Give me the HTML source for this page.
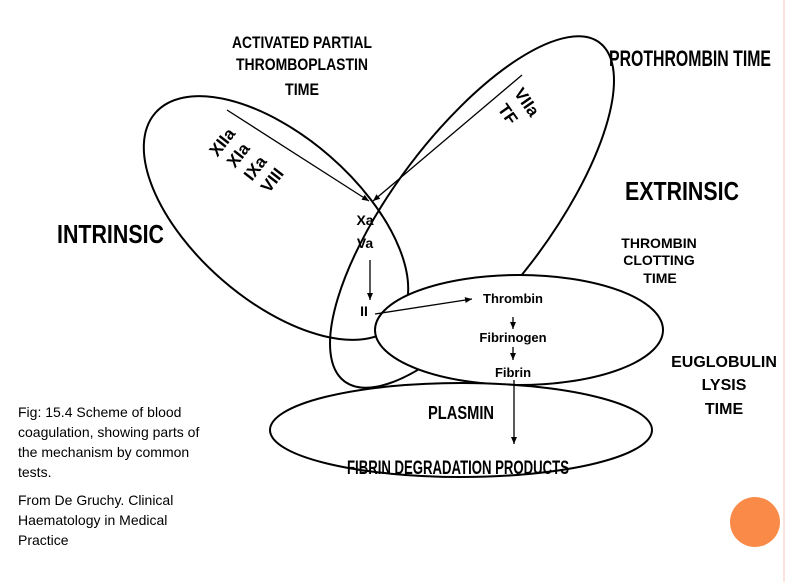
<!DOCTYPE html>
<html><head><style>
html,body{margin:0;padding:0;background:#fff;}
svg{display:block;}
.h{font-family:"Liberation Sans Narrow","Liberation Sans",sans-serif;font-weight:bold;fill:#000;}
.w{font-family:"Liberation Sans",sans-serif;font-weight:bold;fill:#000;}
.c{font-family:"Liberation Sans",sans-serif;font-size:14px;fill:#000;}
</style></head><body>
<svg width="786" height="582" viewBox="0 0 786 582" xmlns="http://www.w3.org/2000/svg">
<defs><marker id="a" markerWidth="8" markerHeight="8" refX="7" refY="4" orient="auto" markerUnits="userSpaceOnUse"><path d="M0,1 L7,4 L0,7 Z" fill="#000"/></marker></defs>
<line x1="784" y1="0" x2="784" y2="582" stroke="#f6c9b8" stroke-width="1"/>
<circle cx="755" cy="522" r="25" fill="#fa8a48"/>
<g fill="none" stroke="#000" stroke-width="2">
<ellipse cx="276" cy="218" rx="160" ry="82" transform="rotate(41 276 218)"/>
<ellipse cx="472" cy="212" rx="212" ry="78" transform="rotate(-53 472 212)"/>
<ellipse cx="519" cy="330" rx="144" ry="55" fill="#fff"/>
<ellipse cx="461" cy="430" rx="191" ry="47" fill="#fff"/>
</g>
<g stroke="#000" stroke-width="1.3" fill="none">
<line x1="227" y1="110" x2="369" y2="201" marker-end="url(#a)"/>
<line x1="522" y1="75" x2="373" y2="201" marker-end="url(#a)"/>
<line x1="370" y1="260" x2="370" y2="300" marker-end="url(#a)"/>
<line x1="375" y1="314" x2="472" y2="299" marker-end="url(#a)"/>
<line x1="513" y1="317" x2="513" y2="329" marker-end="url(#a)"/>
<line x1="513" y1="347" x2="513" y2="360" marker-end="url(#a)"/>
<line x1="514" y1="380" x2="514" y2="444" marker-end="url(#a)"/>
</g>
<text class="h" font-size="17" x="302" y="48" text-anchor="middle" textLength="140" lengthAdjust="spacingAndGlyphs">ACTIVATED PARTIAL</text>
<text class="h" font-size="17" x="302" y="70" text-anchor="middle" textLength="132" lengthAdjust="spacingAndGlyphs">THROMBOPLASTIN</text>
<text class="h" font-size="17" x="302" y="95" text-anchor="middle" textLength="34" lengthAdjust="spacingAndGlyphs">TIME</text>
<text class="h" font-size="22" x="690" y="66" text-anchor="middle" textLength="162" lengthAdjust="spacingAndGlyphs">PROTHROMBIN TIME</text>
<text class="h" font-size="26" x="682" y="200" text-anchor="middle" textLength="114" lengthAdjust="spacingAndGlyphs">EXTRINSIC</text>
<text class="h" font-size="26" x="57" y="243" textLength="107" lengthAdjust="spacingAndGlyphs">INTRINSIC</text>
<text class="w" font-size="14" x="659" y="248" text-anchor="middle">THROMBIN</text>
<text class="w" font-size="14" x="659" y="265" text-anchor="middle">CLOTTING</text>
<text class="w" font-size="14" x="660" y="283" text-anchor="middle">TIME</text>
<text class="w" font-size="16" x="724" y="367" text-anchor="middle">EUGLOBULIN</text>
<text class="w" font-size="16" x="724" y="390" text-anchor="middle">LYSIS</text>
<text class="w" font-size="16" x="724" y="414" text-anchor="middle">TIME</text>
<text class="w" font-size="14" x="365" y="225" text-anchor="middle">Xa</text>
<text class="w" font-size="14" x="365" y="248" text-anchor="middle">Va</text>
<text class="w" font-size="14" x="364" y="316" text-anchor="middle">II</text>
<text class="w" font-size="13" x="513" y="303" text-anchor="middle">Thrombin</text>
<text class="w" font-size="13" x="513" y="342" text-anchor="middle">Fibrinogen</text>
<text class="w" font-size="13" x="513" y="377" text-anchor="middle">Fibrin</text>
<text class="h" font-size="18" x="461" y="419" text-anchor="middle" textLength="66" lengthAdjust="spacingAndGlyphs">PLASMIN</text>
<text class="h" font-size="19" x="458" y="474" text-anchor="middle" textLength="222" lengthAdjust="spacingAndGlyphs">FIBRIN DEGRADATION PRODUCTS</text>
<g class="h" font-size="17" text-anchor="middle">
<text transform="translate(222,142) rotate(-52)" dy="6">XIIa</text>
<text transform="translate(238,155) rotate(-52)" dy="6">XIa</text>
<text transform="translate(255,168) rotate(-52)" dy="6">IXa</text>
<text transform="translate(272,180) rotate(-52)" dy="6">VIII</text>
<text transform="translate(527,102) rotate(55)" dy="6">VIIa</text>
<text transform="translate(508,114) rotate(55)" dy="6">TF</text>
</g>
<text class="c" x="18" y="417">Fig: 15.4 Scheme of blood</text>
<text class="c" x="18" y="437">coagulation, showing parts of</text>
<text class="c" x="18" y="457">the mechanism by common</text>
<text class="c" x="18" y="477">tests.</text>
<text class="c" x="18" y="505">From De Gruchy.  Clinical</text>
<text class="c" x="18" y="525">Haematology in Medical</text>
<text class="c" x="18" y="545">Practice</text>
</svg>
</body></html>
